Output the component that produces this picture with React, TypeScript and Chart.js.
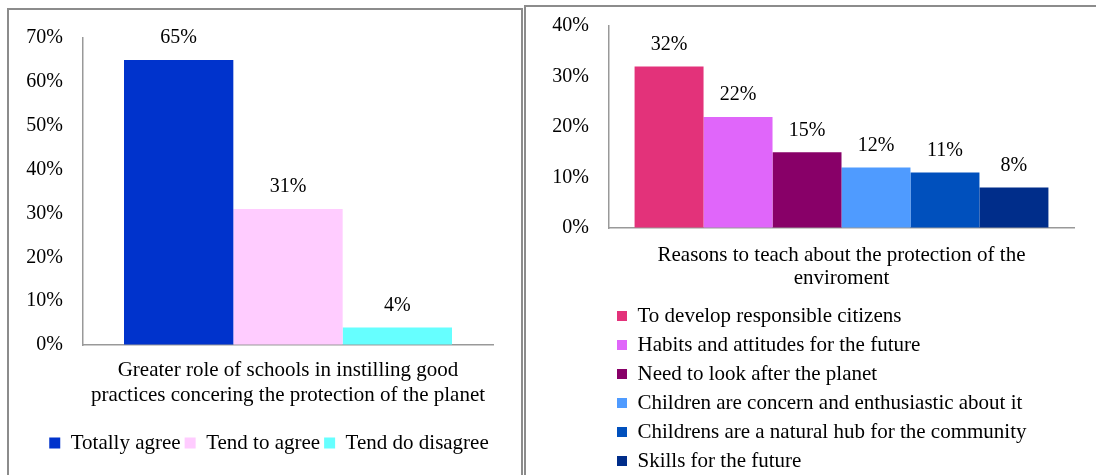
import React, { useEffect, useRef } from "react";
import { Chart, registerables } from "chart.js";

Chart.register(...registerables);

// ---------- data ----------
const leftCategory = [["Greater role of schools in instilling good", "practices concering the protection of the planet"]];
const leftSeries = ["Totally agree", "Tend to agree", "Tend do disagree"];
const leftValues = [65, 31, 4];
const leftColors = ["#0033CC", "#FFCCFF", "#66FFFF"];
const leftTicks = { min: 0, max: 70, step: 10 };

const rightCategory = [["Reasons to teach about the protection of the", "enviroment"]];
const rightSeries = [
  "To develop responsible citizens",
  "Habits and attitudes for the future",
  "Need to look after the planet",
  "Children are concern and enthusiastic about it",
  "Childrens are a natural hub for the community",
  "Skills for the future",
];
const rightValues = [32, 22, 15, 12, 11, 8];
const rightColors = ["#E3327A", "#E066FA", "#880068", "#4F9BFF", "#0050BD", "#002D8A"];
const rightTicks = { min: 0, max: 40, step: 10 };

const FONT = "'Liberation Serif', 'Times New Roman', serif";

const valueLabels = {
  id: "valueLabels",
  afterDatasetsDraw(chart: any) {
    const ctx = chart.ctx;
    ctx.save();
    ctx.font = `20px ${FONT}`;
    ctx.fillStyle = "#000";
    ctx.textAlign = "center";
    ctx.textBaseline = "middle";
    chart.data.datasets.forEach((ds: any, i: number) => {
      const meta = chart.getDatasetMeta(i);
      meta.data.forEach((bar: any, j: number) => {
        ctx.fillText(ds.data[j] + "%", bar.x, bar.y - 22);
      });
    });
    ctx.restore();
  },
};

type Cfg = {
  category: any[];
  series: string[];
  values: number[];
  colors: string[];
  ticks: { min: number; max: number; step: number };
  catPct: number;
  padding: { left: number; right: number; top: number; bottom: number };
  yWidth: number;
  xHeight: number;
  xPad: number;
  xLine: number;
  legendPad: number;
  legendBox: number;
  legendAlign: "start" | "center";
  legendFull: boolean;
  legendShift: number;
};

function makeConfig(c: Cfg): any {
  const legendShift = {
    id: "legendShift",
    afterLayout(chart: any) {
      const lg = chart.legend;
      if (lg && c.legendShift) {
        lg.left += c.legendShift;
        lg.right += c.legendShift;
      }
    },
  };
  return {
    type: "bar",
    data: {
      labels: c.category,
      datasets: c.series.map((name, i) => ({
        label: name,
        data: [c.values[i]],
        backgroundColor: c.colors[i],
        borderWidth: 0,
        barPercentage: 1,
        categoryPercentage: c.catPct,
      })),
    },
    options: {
      responsive: false,
      animation: false,
      layout: { padding: c.padding },
      plugins: {
        tooltip: { enabled: false },
        legend: {
          display: true,
          position: "bottom",
          align: c.legendAlign,
          fullSize: c.legendFull,
          labels: {
            boxWidth: c.legendBox,
            boxHeight: c.legendBox,
            padding: c.legendPad,
            color: "#000",
            font: { family: FONT, size: 21 },
          },
        },
      },
      scales: {
        x: {
          grid: { display: false, drawTicks: false },
          border: { display: true, color: "#999", width: 1.5 },
          ticks: {
            color: "#000",
            padding: c.xPad,
            maxRotation: 0,
            autoSkip: false,
            font: { family: FONT, size: 21, lineHeight: c.xLine },
          },
          afterFit(scale: any) {
            scale.height = c.xHeight;
          },
        },
        y: {
          min: c.ticks.min,
          max: c.ticks.max,
          grid: {
            display: true,
            drawOnChartArea: false,
            drawTicks: true,
            tickLength: 18,
            color: "rgba(0,0,0,0)",
          },
          border: { display: true, color: "#999", width: 1.5 },
          ticks: {
            stepSize: c.ticks.step,
            color: "#000",
            padding: 2,
            font: { family: FONT, size: 20 },
            callback: (v: any) => v + "%",
          },
          afterFit(scale: any) {
            scale.width = c.yWidth;
          },
        },
      },
    },
    plugins: [valueLabels, legendShift],
  };
}

function ChartCanvas({ cfg, w, h, left, top }: { cfg: Cfg; w: number; h: number; left: number; top: number }) {
  const ref = useRef<HTMLCanvasElement | null>(null);
  useEffect(() => {
    if (!ref.current) return;
    const chart = new Chart(ref.current, makeConfig(cfg));
    return () => chart.destroy();
  }, []);
  return (
    <canvas
      ref={ref}
      width={w}
      height={h}
      style={{ position: "absolute", left, top, width: w, height: h, zIndex: 2 }}
    />
  );
}

const leftCfg: Cfg = {
  category: leftCategory,
  series: leftSeries,
  values: leftValues,
  colors: leftColors,
  ticks: leftTicks,
  catPct: 0.8,
  padding: { left: 15, right: 30, top: 38, bottom: 11.5 },
  yWidth: 68,
  xHeight: 83.5,
  xPad: 12.5,
  xLine: 25 / 21,
  legendPad: 4,
  legendBox: 11,
  legendAlign: "center",
  legendFull: true,
  legendShift: 15,
};

const rightCfg: Cfg = {
  category: rightCategory,
  series: rightSeries,
  values: rightValues,
  colors: rightColors,
  ticks: rightTicks,
  catPct: 0.89,
  padding: { left: 0, right: 22, top: 26, bottom: 8.5 },
  yWidth: 85,
  xHeight: 69.5,
  xPad: 15.25,
  xLine: 23.5 / 21,
  legendPad: 8,
  legendBox: 10,
  legendAlign: "start",
  legendFull: false,
  legendShift: 0,
};

export default function App() {
  return (
    <div
      style={{
        position: "fixed",
        left: 0,
        top: 0,
        width: 1096,
        height: 475,
        overflow: "hidden",
        background: "#fff",
      }}
    >
      <div
        style={{
          position: "absolute",
          left: 7,
          top: 8,
          width: 516,
          height: 500,
          border: "2px solid #8c8c8c",
          boxSizing: "border-box",
        }}
      />
      <div
        style={{
          position: "absolute",
          left: 524,
          top: 5,
          width: 600,
          height: 500,
          border: "2px solid #8c8c8c",
          boxSizing: "border-box",
        }}
      />
      <ChartCanvas cfg={leftCfg} w={523} h={475} left={0} top={0} />
      <ChartCanvas cfg={rightCfg} w={572} h={490} left={524} top={0} />
    </div>
  );
}
